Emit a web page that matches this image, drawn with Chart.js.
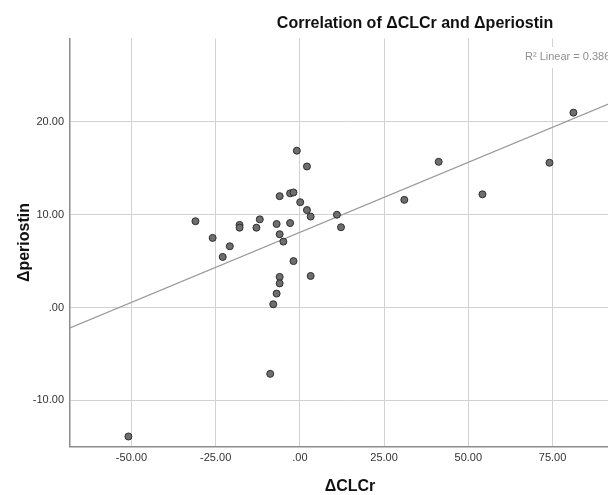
<!DOCTYPE html>
<html><head><meta charset="utf-8">
<script src="https://cdn.jsdelivr.net/npm/chart.js@4.4.1/dist/chart.umd.min.js"></script>
<style>
html,body{margin:0;padding:0;background:#fff;overflow:hidden;width:608px;height:495px}
#wrap{width:640px;height:495px}
canvas{display:block}
</style></head><body>
<div id="wrap"><canvas id="c" width="640" height="495"></canvas></div>
<script>
// ---- data ----
const deltaCLCr = [-0.9, 2.1, -6.0, -2.9, -1.9, 0.1, 2.1, 3.2, 11.0, 12.2,
  -31.0, -17.9, -17.9, -11.9, -12.9, -6.9, -2.9, -6.0, -4.9, -25.9,
  -20.8, -22.9, -1.9, 3.2, -6.0, -6.0, -6.9, -7.9, -8.8, -50.9,
  31.0, 41.2, 54.2, 74.1, 81.2];
const deltaPeriostin = [16.9, 15.2, 12.0, 12.3, 12.4, 11.35, 10.5, 9.8, 10.0, 8.65,
  9.3, 8.9, 8.6, 9.5, 8.6, 9.0, 9.1, 7.9, 7.1, 7.5,
  6.6, 5.45, 5.0, 3.4, 3.3, 2.6, 1.5, 0.35, -7.15, -13.9,
  11.6, 15.7, 12.2, 15.6, 21.0];
const fitX = [-68.24, 98];
const fitY = [-2.2, 22.9];
const xTickValues = [-50, -25, 0, 25, 50, 75];
const xTickLabels = ['-50.00', '-25.00', '.00', '25.00', '50.00', '75.00'];
const yTickValues = [-10, 0, 10, 20];
const yTickLabels = ['-10.00', '.00', '10.00', '20.00'];
const titleText = 'Correlation of \u0394CLCr and \u0394periostin';
const xTitle = '\u0394CLCr';
const yTitle = '\u0394periostin';
const r2Text = 'R\u00B2 Linear = 0.386';

const FONT = '"Liberation Sans", Arial, sans-serif';

const annot = {
  id: 'annot',
  afterDatasetsDraw(chart, args, opts) {
    const ctx = chart.ctx;
    ctx.save();
    ctx.font = '11px ' + FONT;
    const w = ctx.measureText(opts.r2).width;
    ctx.fillStyle = '#ffffff';
    ctx.fillRect(opts.r2x - 6, opts.r2y - 10, w + 12, 21);
    ctx.fillStyle = '#8f8f8f';
    ctx.textAlign = 'left';
    ctx.textBaseline = 'middle';
    ctx.fillText(opts.r2, opts.r2x, opts.r2y);
    ctx.restore();
  },
  afterDraw(chart, args, opts) {
    const ctx = chart.ctx;
    ctx.save();
    ctx.font = 'bold 16px ' + FONT;
    ctx.fillStyle = '#111111';
    ctx.textAlign = 'center';
    ctx.textBaseline = 'middle';
    ctx.fillText(opts.title, opts.tx, opts.ty);
    ctx.restore();
  }
};

new Chart(document.getElementById('c'), {
  data: {
    datasets: [
      {
        type: 'scatter',
        data: deltaCLCr.map((x, i) => ({ x: x, y: deltaPeriostin[i] })),
        pointRadius: 3.5,
        pointHoverRadius: 3.5,
        pointBackgroundColor: '#6e6e6e',
        pointBorderColor: '#2e2e2e',
        pointBorderWidth: 1,
        order: 0
      },
      {
        type: 'line',
        data: fitX.map((x, i) => ({ x: x, y: fitY[i] })),
        borderColor: '#9a9a9a',
        borderWidth: 1.2,
        pointRadius: 0,
        fill: false,
        order: 1
      }
    ]
  },
  options: {
    responsive: false,
    animation: false,
    events: [],
    layout: { padding: { top: 38.4, right: 10, left: 0, bottom: 0 } },
    plugins: {
      legend: { display: false },
      tooltip: { enabled: false },
      annot: { title: titleText, tx: 415, ty: 24, r2: r2Text, r2x: 525, r2y: 57 }
    },
    scales: {
      x: {
        type: 'linear',
        min: -68.24,
        max: 98,
        afterBuildTicks: s => { s.ticks = xTickValues.map(v => ({ value: v })); },
        afterFit: s => { s.height = 48.3; },
        ticks: {
          callback: (v, i) => xTickLabels[i],
          font: { family: FONT, size: 11 },
          color: '#333333',
          padding: 5,
          maxRotation: 0,
          autoSkip: false
        },
        grid: { color: '#d2d2d2', lineWidth: 1, drawTicks: false },
        border: { color: '#8c8c8c', width: 1.5 },
        title: {
          display: true,
          text: xTitle,
          font: { family: FONT, size: 16, weight: 'bold', lineHeight: 1 },
          color: '#111111',
          padding: { top: 0, bottom: 0 }
        }
      },
      y: {
        type: 'linear',
        min: -15,
        max: 29,
        afterBuildTicks: s => { s.ticks = yTickValues.map(v => ({ value: v })); },
        afterFit: s => { s.width = 70; },
        ticks: {
          callback: (v, i) => yTickLabels[i],
          font: { family: FONT, size: 11 },
          color: '#333333',
          padding: 6,
          autoSkip: false
        },
        grid: { color: '#d2d2d2', lineWidth: 1, drawTicks: false },
        border: { color: '#8c8c8c', width: 1.5 },
        title: {
          display: true,
          text: yTitle,
          font: { family: FONT, size: 16, weight: 'bold', lineHeight: 1 },
          color: '#111111',
          padding: { top: 17, bottom: 0 }
        }
      }
    }
  },
  plugins: [annot]
});
</script>
</body></html>
